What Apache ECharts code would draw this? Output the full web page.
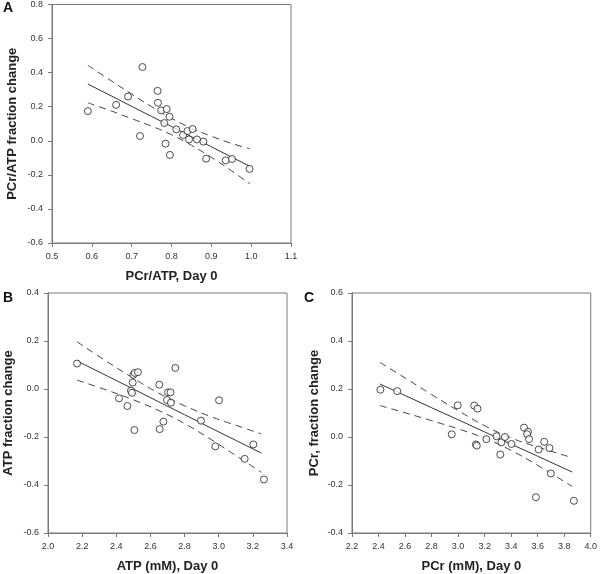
<!DOCTYPE html>
<html><head><meta charset="utf-8">
<script src="https://cdn.jsdelivr.net/npm/echarts@6/dist/echarts.min.js"></script>
<style>html,body{margin:0;padding:0;background:#fff}#c{width:600px;height:574px}</style>
</head><body><div id="c"></div>
<script>
// Panel A: PCr/ATP
const aX = [0.590,0.661,0.691,0.727,0.721,0.765,0.766,0.774,0.788,0.795,0.782,0.785,0.796,0.812,0.829,0.840,0.853,0.844,0.864,0.880,0.887,0.936,0.952,0.996];
const aY = [0.174,0.211,0.260,0.433,0.028,0.293,0.223,0.178,0.186,0.141,0.104,-0.017,-0.083,0.067,0.034,0.057,0.069,0.008,0.008,-0.005,-0.105,-0.115,-0.107,-0.165];
const aBandX = [0.59,0.65,0.70,0.75,0.80,0.85,0.90,0.95,0.997];
const aFit   = [0.333,0.262,0.202,0.143,0.084,0.024,-0.035,-0.095,-0.150];
const aUpper = [0.443,0.350,0.274,0.200,0.132,0.074,0.027,-0.015,-0.047];
const aLower = [0.223,0.174,0.130,0.086,0.036,-0.026,-0.097,-0.175,-0.253];

// Panel B: ATP
const bX = [2.170,2.500,2.508,2.527,2.496,2.486,2.492,2.416,2.465,2.506,2.652,2.746,2.703,2.718,2.697,2.720,2.676,2.654,2.896,3.002,2.980,3.203,3.152,3.265];
const bY = [0.106,0.059,0.067,0.070,0.027,-0.007,-0.016,-0.039,-0.071,-0.171,0.018,0.088,-0.014,-0.014,-0.046,-0.057,-0.136,-0.167,-0.132,-0.047,-0.239,-0.231,-0.291,-0.377];
const bBandX = [2.17,2.35,2.50,2.65,2.80,2.95,3.10,3.25];
const bFit   = [0.117,0.053,0.000,-0.054,-0.107,-0.161,-0.214,-0.267];
const bUpper = [0.197,0.112,0.045,-0.018,-0.070,-0.114,-0.151,-0.187];
const bLower = [0.037,-0.006,-0.045,-0.090,-0.144,-0.208,-0.277,-0.347];

// Panel C: PCr
const cX = [2.414,2.541,2.952,2.997,3.121,3.146,3.134,3.141,3.213,3.290,3.326,3.318,3.353,3.403,3.497,3.527,3.520,3.535,3.607,3.649,3.689,3.699,3.587,3.873];
const cY = [0.197,0.191,0.011,0.132,0.131,0.118,-0.031,-0.036,-0.009,0.003,-0.022,-0.073,0.000,-0.029,0.039,0.022,0.012,-0.009,-0.052,-0.020,-0.046,-0.152,-0.251,-0.266];
const cBandX = [2.41,2.60,2.80,3.00,3.20,3.40,3.60,3.86];
const cFit   = [0.221,0.173,0.122,0.072,0.021,-0.030,-0.080,-0.146];
const cUpper = [0.311,0.246,0.177,0.110,0.047,-0.004,-0.042,-0.086];
const cLower = [0.131,0.101,0.068,0.034,-0.005,-0.056,-0.118,-0.206];

const panels = [
  {x:aX,y:aY,bx:aBandX,fit:aFit,up:aUpper,lo:aLower,xmin:0.5,xmax:1.1,xint:0.1,ymin:-0.6,ymax:0.8,
   grid:{left:52,top:3,width:239,height:240},xname:'PCr/ATP, Day 0',yname:'PCr/ATP fraction change',ygap:33},
  {x:bX,y:bY,bx:bBandX,fit:bFit,up:bUpper,lo:bLower,xmin:2.0,xmax:3.4,xint:0.2,ymin:-0.6,ymax:0.4,
   grid:{left:48,top:293,width:239,height:240},xname:'ATP (mM), Day 0',yname:'ATP fraction change',ygap:33},
  {x:cX,y:cY,bx:cBandX,fit:cFit,up:cUpper,lo:cLower,xmin:2.2,xmax:4.0,xint:0.2,ymin:-0.4,ymax:0.6,
   grid:{left:352,top:293,width:241,height:240},xname:'PCr (mM), Day 0',yname:'PCr, fraction change',ygap:31}
];

const axisCol = '#7a7a7a';
const fmt = v => (Math.abs(v) < 1e-9 ? 0 : v).toFixed(1);
const grids=[], xAxes=[], yAxes=[], series=[];
panels.forEach((p,i)=>{
  grids.push(Object.assign({show:true,borderColor:axisCol,borderWidth:1,containLabel:false}, p.grid));
  const common = {
    axisLine:{show:true,onZero:false,lineStyle:{color:axisCol,width:1}},
    axisTick:{show:true,inside:false,length:4,lineStyle:{color:axisCol}},
    splitLine:{show:false},
    nameTextStyle:{fontFamily:'Liberation Sans, Arial, sans-serif',fontWeight:'bold',fontSize:13,color:'#222'},
    nameLocation:'middle'
  };
  xAxes.push(Object.assign({}, common, {type:'value',gridIndex:i,min:p.xmin,max:p.xmax,interval:p.xint,
    name:p.xname,nameGap:27,
    axisLabel:{formatter:fmt,fontSize:9,color:'#333',margin:9,fontFamily:'Liberation Sans, Arial, sans-serif'}}));
  yAxes.push(Object.assign({}, common, {type:'value',gridIndex:i,min:p.ymin,max:p.ymax,interval:0.2,
    name:p.yname,nameGap:p.ygap,
    axisLabel:{formatter:fmt,fontSize:9,color:'#333',margin:9,fontFamily:'Liberation Sans, Arial, sans-serif'}}));
  series.push({type:'scatter',xAxisIndex:i,yAxisIndex:i,symbol:'circle',symbolSize:7,
    itemStyle:{color:'#fff',borderColor:'#222',borderWidth:1},
    data:p.x.map((v,k)=>[v,p.y[k]]),z:5,silent:true});
  series.push({type:'line',xAxisIndex:i,yAxisIndex:i,showSymbol:false,symbol:'none',
    lineStyle:{color:'#333',width:1},data:p.bx.map((v,k)=>[v,p.fit[k]]),z:3,silent:true});
  [p.up,p.lo].forEach(arr=>{
    series.push({type:'line',xAxisIndex:i,yAxisIndex:i,showSymbol:false,symbol:'none',smooth:0.4,
      lineStyle:{color:'#444',width:1,type:[7,5]},data:p.bx.map((v,k)=>[v,arr[k]]),z:3,silent:true});
  });
});

const chart = echarts.init(document.getElementById('c'),null,{renderer:'canvas'});
chart.setOption({
  animation:false,
  backgroundColor:'#fff',
  grid:grids, xAxis:xAxes, yAxis:yAxes, series:series,
  graphic:[
    {type:'text',left:3,top:1,style:{text:'A',font:'bold 14px Liberation Sans, Arial, sans-serif',fill:'#111'}},
    {type:'text',left:3,top:291,style:{text:'B',font:'bold 14px Liberation Sans, Arial, sans-serif',fill:'#111'}},
    {type:'text',left:304,top:291,style:{text:'C',font:'bold 14px Liberation Sans, Arial, sans-serif',fill:'#111'}}
  ]
});
</script></body></html>
